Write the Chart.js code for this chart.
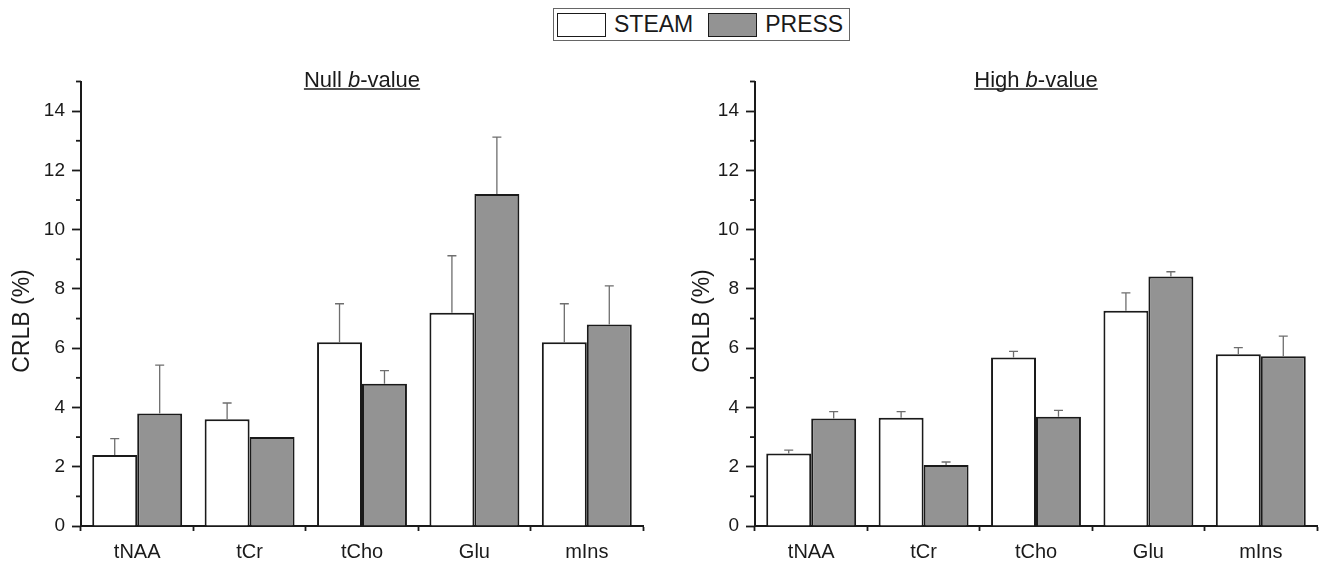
<!DOCTYPE html>
<html>
<head>
<meta charset="utf-8">
<script src="https://cdn.jsdelivr.net/npm/chart.js@4/dist/chart.umd.min.js"></script>
<style>
  body { margin: 0; background: #fff; font-family: "Liberation Sans", Arial, sans-serif; }
  .panel { position: absolute; top: 0; width: 663px; height: 568px; }
  #legend {
    position: absolute; left: 553px; top: 8px; width: 295px; height: 31px;
    border: 1px solid #666; display: flex; align-items: center; color: #1a1a1a;
    font-size: 23px;
  }
  #legend .item { display: flex; align-items: center; }
  #legend .box { width: 47px; height: 22px; border: 1.5px solid #1a1a1a; margin: 0 8px 0 3px; }
</style>
</head>
<body>
<div id="legend"></div>
<div class="panel" style="left:0"><canvas id="nullChart"></canvas></div>
<div class="panel" style="left:663px"><canvas id="highChart"></canvas></div>
<script>
// metabolites
const categories = ['tNAA', 'tCr', 'tCho', 'Glu', 'mIns'];
const seriesNames = ['STEAM', 'PRESS'];

// null b-value
const nullSteam = [2.4, 3.6, 6.2, 7.2, 6.2];
const nullSteamErr = [0.55, 0.55, 1.3, 1.92, 1.3];
const nullPress = [3.8, 3.0, 4.8, 11.2, 6.8];
const nullPressErr = [1.63, 0, 0.44, 1.92, 1.3];

// high b-value
const highSteam = [2.45, 3.65, 5.69, 7.26, 5.8];
const highSteamErr = [0.11, 0.21, 0.2, 0.61, 0.22];
const highPress = [3.63, 2.06, 3.69, 8.42, 5.73];
const highPressErr = [0.23, 0.1, 0.21, 0.16, 0.68];

const yMin = 0;
const yMax = 15;

const dark = '#1a1a1a';
const colors = ['#ffffff', '#939393'];
const font = '"Liberation Sans", Arial, sans-serif';

// upper error bars on top of each bar
const errorBars = {
    id: 'errorBars',
    afterDatasetsDraw(chart) {
        const ctx = chart.ctx;
        const y = chart.scales.y;
        ctx.save();
        ctx.strokeStyle = '#6e6e6e';
        ctx.lineWidth = 1.3;
        chart.data.datasets.forEach((ds, i) => {
            const meta = chart.getDatasetMeta(i);
            meta.data.forEach((bar, j) => {
                const err = ds.errors[j];
                if (!err) return;
                const top = y.getPixelForValue(ds.data[j] + err);
                ctx.beginPath();
                ctx.moveTo(bar.x, bar.y);
                ctx.lineTo(bar.x, top);
                ctx.moveTo(bar.x - 4.5, top);
                ctx.lineTo(bar.x + 4.5, top);
                ctx.stroke();
            });
        });
        ctx.restore();
    }
};

// minor ticks, panel title, y axis title
const decorations = {
    id: 'decorations',
    afterDraw(chart, args, opts) {
        const ctx = chart.ctx;
        const area = chart.chartArea;
        const y = chart.scales.y;
        ctx.save();
        ctx.strokeStyle = dark;
        ctx.lineWidth = 1.8;
        for (let v = yMin + 1; v <= yMax; v += 2) {
            const py = y.getPixelForValue(v);
            ctx.beginPath();
            ctx.moveTo(area.left - 5, py);
            ctx.lineTo(area.left, py);
            ctx.stroke();
        }

        // title: "<pre> b-value", b in italics, underlined
        ctx.fillStyle = dark;
        ctx.textBaseline = 'alphabetic';
        const normal = '22px ' + font;
        const italic = 'italic 22px ' + font;
        const parts = [[opts.title + ' ', normal], ['b', italic], ['-value', normal]];
        let total = 0;
        parts.forEach(p => { ctx.font = p[1]; total += ctx.measureText(p[0]).width; });
        let x = (area.left + area.right) / 2 - total / 2;
        const base = area.top + 5;
        const start = x;
        parts.forEach(p => {
            ctx.font = p[1];
            ctx.fillText(p[0], x, base);
            x += ctx.measureText(p[0]).width;
        });
        ctx.lineWidth = 1.3;
        ctx.beginPath();
        ctx.moveTo(start, base + 2.5);
        ctx.lineTo(x, base + 2.5);
        ctx.stroke();

        // y axis title
        ctx.font = '23px ' + font;
        ctx.textAlign = 'center';
        ctx.textBaseline = 'middle';
        ctx.translate(area.left - opts.yTitleOffset, area.bottom - 205);
        ctx.rotate(-Math.PI / 2);
        ctx.fillText('CRLB (%)', 0, 0);
        ctx.restore();
    }
};

function makeChart(canvasId, title, steam, steamErr, press, pressErr, axisWidth, padRight, yTitleOffset) {
    const ctx = document.getElementById(canvasId).getContext('2d');
    const data = {
        labels: categories,
        datasets: [
            {
                label: seriesNames[0],
                data: steam,
                errors: steamErr,
                backgroundColor: colors[0],
                borderColor: dark,
                borderWidth: 2,
            },
            {
                label: seriesNames[1],
                data: press,
                errors: pressErr,
                backgroundColor: colors[1],
                borderColor: dark,
                borderWidth: 2,
            },
        ],
    };
    const config = {
        type: 'bar',
        data: data,
        plugins: [errorBars, decorations],
        options: {
            responsive: true,
            maintainAspectRatio: false,
            animation: false,
            categoryPercentage: 0.8,
            barPercentage: 1.0,
            layout: { padding: { top: 81.5, right: padRight, left: 0, bottom: 0 } },
            plugins: {
                legend: { display: false },
                tooltip: { enabled: false },
                decorations: { title: title, yTitleOffset: yTitleOffset },
            },
            scales: {
                x: {
                    afterFit: (scale) => { scale.height = 42; },
                    grid: {
                        offset: true,
                        drawOnChartArea: false,
                        tickLength: 5,
                        tickColor: dark,
                        tickWidth: 1.8,
                    },
                    border: { color: dark, width: 2 },
                    ticks: {
                        color: dark,
                        padding: 9,
                        font: { family: font, size: 20 },
                    },
                },
                y: {
                    min: yMin,
                    max: yMax,
                    afterFit: (scale) => { scale.width = axisWidth; },
                    grid: {
                        drawOnChartArea: false,
                        tickLength: 9,
                        tickWidth: 1.8,
                        tickColor: (c) => (c.tick && c.tick.value % 2 === 0 ? dark : 'rgba(0,0,0,0)'),
                    },
                    border: { color: dark, width: 2 },
                    ticks: {
                        stepSize: 1,
                        autoSkip: false,
                        color: dark,
                        padding: 7,
                        font: { family: font, size: 19 },
                        callback: (v) => (v % 2 === 0 ? v : ''),
                    },
                },
            },
        },
    };
    return new Chart(ctx, config);
}

const nullChart = makeChart('nullChart', 'Null', nullSteam, nullSteamErr, nullPress, nullPressErr, 81, 20, 58);
const highChart = makeChart('highChart', 'High', highSteam, highSteamErr, highPress, highPressErr, 92, 9, 52);

// legend from the chart's datasets
const legend = document.getElementById('legend');
nullChart.data.datasets.forEach((ds) => {
    const item = document.createElement('div');
    item.className = 'item';
    const box = document.createElement('span');
    box.className = 'box';
    box.style.background = ds.backgroundColor;
    const text = document.createElement('span');
    text.textContent = ds.label;
    text.style.marginRight = '12px';
    item.appendChild(box);
    item.appendChild(text);
    legend.appendChild(item);
});
</script>
</body>
</html>
